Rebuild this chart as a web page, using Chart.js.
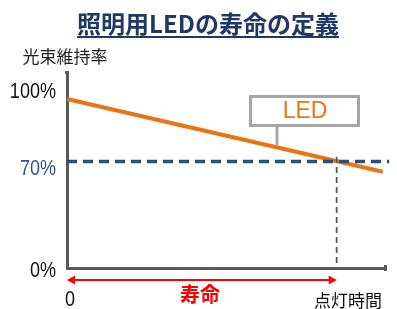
<!DOCTYPE html>
<html>
<head>
<meta charset="utf-8">
<script src="https://cdn.jsdelivr.net/npm/chart.js@4"></script>
<style>
  html, body { margin: 0; padding: 0; background: #fff; }
  #wrap { width: 397px; height: 309px; }
</style>
</head>
<body>
<div id="wrap"><canvas id="chart" width="397" height="309"></canvas></div>
<script>
// values (x = lighting time, arbitrary units)
const ledTime = [0, 99.3];
const ledValues = [100, 57];
const thresholdTime = [0, 101.3];
const thresholdValues = [63, 63];
const lifeTime = [84.8, 84.8];
const lifeValues = [65.7, 0];
const yTicks = [100, 63, 0];
const yTickLabels = ['100%', '70%', '0%'];
const yTickColors = ['#111111', '#2f5597', '#111111'];

const NAVY = '#1f3864';
const ORANGE = '#e87511';
const AXIS = '#595959';

const toPoints = (xs, ys) => xs.map((x, i) => ({ x: x, y: ys[i] }));

// narrow digits like the original (condensed sans)
function narrowText(ctx, text, x, y, align) {
    ctx.save();
    ctx.translate(x, y);
    ctx.scale(0.82, 1);
    ctx.textAlign = align;
    ctx.fillText(text, 0, 0);
    ctx.restore();
}

const decorations = {
    id: 'decorations',
    afterDraw(chart) {
        const ctx = chart.ctx;
        const xs = chart.scales.x;
        const ys = chart.scales.y;
        const area = chart.chartArea;
        ctx.save();

        // title with underline
        ctx.font = 'bold 24px "Noto Sans CJK JP"';
        ctx.fillStyle = NAVY;
        ctx.textAlign = 'center';
        ctx.textBaseline = 'alphabetic';
        const title = '照明用LEDの寿命の定義';
        ctx.fillText(title, 208, 33);
        const tw = ctx.measureText(title).width;
        ctx.fillRect(208 - tw / 2, 36, tw, 2);

        // y axis title
        ctx.font = '17px "Noto Sans CJK JP"';
        ctx.fillStyle = '#222';
        ctx.textBaseline = 'middle';
        ctx.fillText('光束維持率', 65, 57);

        // y tick labels
        const offsets = [-7, 7, 3];
        ctx.font = '22px "Liberation Sans", sans-serif';
        yTicks.forEach((v, i) => {
            ctx.fillStyle = yTickColors[i];
            narrowText(ctx, yTickLabels[i], 56, ys.getPixelForValue(v) + offsets[i], 'right');
        });

        // axis end caps
        ctx.fillStyle = AXIS;
        ctx.fillRect(area.left - 2, area.top - 1, 4, 3);
        ctx.fillRect(area.right - 1, area.bottom - 3, 3, 6);

        // x labels
        ctx.fillStyle = '#111';
        narrowText(ctx, '0', xs.getPixelForValue(0) + 3, 300, 'center');
        ctx.textAlign = 'center';
        ctx.font = '17px "Noto Sans CJK JP"';
        ctx.fillText('点灯時間', 348, 301);

        // life arrow
        const x0 = xs.getPixelForValue(0);
        const x1 = xs.getPixelForValue(lifeTime[0]);
        const ay = 280;
        ctx.strokeStyle = '#ff0000';
        ctx.fillStyle = '#ff0000';
        ctx.lineWidth = 2;
        ctx.beginPath();
        ctx.moveTo(x0 + 6, ay);
        ctx.lineTo(x1 - 6, ay);
        ctx.stroke();
        ctx.beginPath();
        ctx.moveTo(x0, ay); ctx.lineTo(x0 + 8, ay - 4.5); ctx.lineTo(x0 + 8, ay + 4.5); ctx.closePath();
        ctx.fill();
        ctx.beginPath();
        ctx.moveTo(x1, ay); ctx.lineTo(x1 - 8, ay - 4.5); ctx.lineTo(x1 - 8, ay + 4.5); ctx.closePath();
        ctx.fill();
        ctx.font = 'bold 20px "Noto Sans CJK JP"';
        ctx.fillText('寿命', 200, 294);

        // LED callout
        const cx = 277;
        const lineY = ys.getPixelForValue(ledValues[0] + (ledValues[1] - ledValues[0]) * xs.getValueForPixel(cx) / ledTime[1]);
        ctx.strokeStyle = '#a6a6a6';
        ctx.lineWidth = 3;
        ctx.beginPath();
        ctx.moveTo(cx, 126);
        ctx.lineTo(cx, lineY - 2);
        ctx.stroke();
        ctx.fillStyle = '#fff';
        ctx.fillRect(250.5, 96.5, 108, 29);
        ctx.strokeRect(250.5, 96.5, 108, 29);
        ctx.fillStyle = ORANGE;
        ctx.font = '23px "Liberation Sans", sans-serif';
        ctx.fillText('LED', 305, 112);

        ctx.restore();
    }
};

new Chart(document.getElementById('chart'), {
    type: 'line',
    data: {
        datasets: [
            {
                label: '70%',
                data: toPoints(thresholdTime, thresholdValues),
                borderColor: '#2a4d80',
                borderWidth: 3.5,
                borderDash: [10, 6],
                pointRadius: 0,
                clip: false
            },
            {
                label: '寿命',
                data: toPoints(lifeTime, lifeValues),
                borderColor: AXIS,
                borderWidth: 1.8,
                borderDash: [6, 4],
                pointRadius: 0,
                clip: false
            },
            {
                label: 'LED',
                data: toPoints(ledTime, ledValues),
                borderColor: ORANGE,
                borderWidth: 4,
                pointRadius: 0,
                clip: false
            }
        ]
    },
    options: {
        responsive: false,
        animation: false,
        layout: { padding: { left: 0, top: 72, right: 12, bottom: 41 } },
        plugins: {
            legend: { display: false },
            tooltip: { enabled: false }
        },
        scales: {
            x: {
                type: 'linear',
                min: 0,
                max: 100,
                grid: { display: false },
                ticks: { display: false },
                border: { display: true, color: AXIS, width: 3 },
                afterFit: s => { s.height = 0; }
            },
            y: {
                min: 0,
                max: 116,
                grid: { display: false },
                ticks: { display: false },
                border: { display: true, color: AXIS, width: 3 },
                afterFit: s => { s.width = 67; }
            }
        }
    },
    plugins: [decorations]
});
</script>
</body>
</html>
